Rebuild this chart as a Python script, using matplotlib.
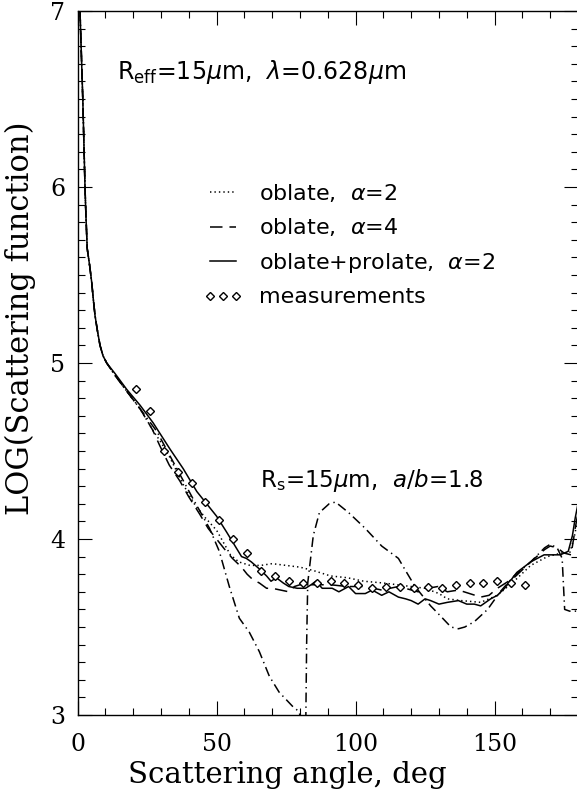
import numpy as np
import matplotlib
matplotlib.use("Agg")
import matplotlib.pyplot as plt

plt.rcParams['lines.scale_dashes'] = False
plt.rcParams['mathtext.fontset'] = 'dejavusans'

# oblate, alpha=2 (dotted)
ang_o2 = [0.9, 1.4, 1.9, 2.3, 2.7, 3.0, 3.5, 4.4, 5.1, 5.7, 6.3, 7.2, 8.1, 9.2, 10.5, 13.5, 17.7,
          22.5, 27, 30, 33, 38, 42, 46, 50, 55, 58, 62, 66, 70, 75, 80, 85, 91, 97, 103, 110, 115,
          120, 125, 130, 133, 138, 145, 151, 157, 163, 169, 174, 177, 178.5, 180]
val_o2 = [7.0, 6.75, 6.5, 6.25, 6.0, 5.85, 5.65, 5.55, 5.46, 5.36, 5.27, 5.18, 5.10, 5.04, 5.0, 4.93, 4.84,
          4.74, 4.62, 4.55, 4.47, 4.31, 4.20, 4.12, 4.05, 3.91, 3.87, 3.85, 3.85, 3.86, 3.85, 3.84, 3.82,
          3.79, 3.78, 3.76, 3.75, 3.74, 3.73, 3.72, 3.69, 3.66, 3.65, 3.64, 3.68, 3.76, 3.85, 3.90, 3.92,
          3.92, 4.0, 4.12]

# oblate, alpha=4 (dashed)
ang_o4 = [0.9, 1.4, 1.9, 2.3, 2.7, 3.0, 3.5, 4.4, 5.1, 5.7, 6.3, 7.2, 8.1, 9.2, 10.5, 13.5, 17.7,
          22.5, 27, 29.6, 33, 36.8, 40, 44, 47, 50, 53, 55.7, 59, 61, 63, 65.4, 68, 70, 73, 76, 78,
          80, 85, 91, 97, 103.5, 109.4, 115.4, 122.5, 126, 129.6, 133, 137, 141, 145, 148, 151, 157,
          163, 168, 170, 172.5, 175, 177.5, 179, 180]
val_o4 = [7.0, 6.75, 6.5, 6.25, 6.0, 5.85, 5.65, 5.55, 5.46, 5.36, 5.27, 5.18, 5.10, 5.04, 5.0, 4.93, 4.84,
          4.74, 4.62, 4.53, 4.42, 4.33, 4.24, 4.14, 4.06, 4.0, 3.94, 3.89, 3.84, 3.80, 3.77, 3.75, 3.72,
          3.72, 3.71, 3.70, 3.73, 3.74, 3.74, 3.74, 3.73, 3.73, 3.71, 3.73, 3.70, 3.72, 3.73, 3.70,
          3.71, 3.69, 3.67, 3.68, 3.72, 3.78, 3.87, 3.94, 3.96, 3.95, 3.92, 3.91, 4.06, 4.15]

# oblate+prolate, alpha=2 (solid)
ang_op = [0.9, 1.4, 1.9, 2.3, 2.7, 3.0, 3.5, 4.4, 5.1, 5.7, 6.3, 7.2, 8.1, 9.2, 10.5, 13.5, 17.7,
          22.5, 27.2, 33.3, 38, 42.9, 50, 53.6, 59, 60.7, 62.5, 65.4, 68, 69.6, 71.5, 74, 76, 79, 82,
          84, 85.7, 88, 91.6, 94, 97.5, 100, 103.5, 106, 109.4, 112, 115.4, 118, 120, 122.5, 125, 127,
          130, 133, 137, 140, 142.7, 145, 148.6, 151, 153.6, 158, 163, 167.8, 170, 173.6, 176.5, 178,
          179, 180]
val_op = [7.0, 6.75, 6.5, 6.25, 6.0, 5.85, 5.65, 5.55, 5.46, 5.36, 5.27, 5.18, 5.10, 5.04, 5.0, 4.94, 4.85,
          4.76, 4.66, 4.51, 4.40, 4.27, 4.13, 4.04, 3.90, 3.89, 3.87, 3.83, 3.79, 3.76, 3.78, 3.75, 3.73,
          3.72, 3.72, 3.74, 3.76, 3.72, 3.72, 3.70, 3.73, 3.69, 3.69, 3.71, 3.68, 3.70, 3.67, 3.66, 3.65,
          3.63, 3.66, 3.65, 3.63, 3.64, 3.65, 3.63, 3.63, 3.62, 3.66, 3.68, 3.72, 3.81, 3.87, 3.91, 3.91,
          3.91, 3.93, 4.02, 4.12, 4.2]

# R_s=15um, a/b=1.8 (dash-dot)
ang_rs = [0.9, 1.4, 1.9, 2.3, 2.7, 3.0, 3.5, 4.4, 5.1, 5.7, 6.3, 7.2, 8.1, 9.2, 10.5, 13.5, 17.7,
          22.5, 28.6, 35.7, 41.5, 47.5, 51, 54.6, 58.2, 61.8, 65.4, 69, 72.5, 77.3, 79.6, 81.0, 81.6,
          82.1, 82.4, 82.8, 84.8, 87, 90.5, 92.8, 97.5, 103.5, 109.4, 115.4, 118, 121.4, 127, 130.7,
          134.3, 137, 139.3, 142.7, 147.5, 152, 157, 163, 168, 170, 172.5, 174.3, 175.2, 177, 180]
val_rs = [7.0, 6.75, 6.5, 6.25, 6.0, 5.85, 5.65, 5.55, 5.46, 5.36, 5.27, 5.18, 5.10, 5.04, 5.0, 4.93, 4.84,
          4.74, 4.61, 4.40, 4.23, 4.06, 3.93, 3.73, 3.55, 3.47, 3.36, 3.22, 3.13, 3.05, 3.02, 2.95, 2.6,
          2.95, 3.4, 3.75, 4.02, 4.15, 4.20, 4.21, 4.15, 4.06, 3.96, 3.89, 3.82, 3.73, 3.62, 3.56,
          3.50, 3.49, 3.50, 3.53, 3.60, 3.70, 3.79, 3.87, 3.95, 3.97, 3.95, 3.89, 3.60, 3.59, 3.59]

# measurements
ang_meas = [21, 26, 31, 36, 41, 46, 51, 56, 61, 66, 71, 76, 81, 86, 91, 96, 101, 106, 111,
            116, 121, 126, 131, 136, 141, 146, 151, 156, 161]
val_meas = [4.85, 4.73, 4.50, 4.38, 4.32, 4.21, 4.11, 4.00, 3.92, 3.82, 3.79, 3.76, 3.75, 3.75, 3.76,
            3.75, 3.74, 3.72, 3.73, 3.73, 3.72, 3.73, 3.72, 3.74, 3.75, 3.75, 3.76, 3.75, 3.74]

fig = plt.figure(figsize=(5.77, 7.92), dpi=100)
ax = fig.add_axes([77.5 / 577, 77 / 792, 500.5 / 577, 704 / 792])

lw = 1.1
l1, = ax.plot(ang_o2, val_o2, color='black', lw=lw, dashes=(1, 2.2), label=r'oblate,  $\alpha$=2')
l2, = ax.plot(ang_o4, val_o4, color='black', lw=lw, dashes=(9, 5), label=r'oblate,  $\alpha$=4')
l3, = ax.plot(ang_op, val_op, color='black', lw=lw, label=r'oblate+prolate,  $\alpha$=2')
ax.plot(ang_rs, val_rs, color='black', lw=lw, dashes=(7, 3, 1, 3))
l4, = ax.plot(ang_meas, val_meas, ls='none', marker='D', ms=4.5, mfc='white', mec='black',
              mew=1.0, label='measurements')

ax.set_xlim(0, 180)
ax.set_ylim(3, 7)
ax.set_xticks([0, 50, 100, 150])
ax.set_xticks(np.arange(0, 181, 10), minor=True)
ax.set_yticks([3, 4, 5, 6, 7])
ax.set_yticks(np.arange(3, 7.01, 0.1), minor=True)
ax.tick_params(which='both', direction='in', top=True, right=True, width=0.8)
ax.tick_params(which='major', length=10, labelsize=17, pad=9)
ax.tick_params(which='minor', length=5)
ax.tick_params(axis='x', which='major', pad=13)
for lab in ax.get_xticklabels() + ax.get_yticklabels():
    lab.set_family('DejaVu Serif')
for s in ax.spines.values():
    s.set_linewidth(1.0)

fig.text(287 / 577, 1 - 775 / 792, 'Scattering angle, deg', ha='center', va='center',
         family='DejaVu Serif', fontsize=21)
fig.text(20 / 577, 1 - 318 / 792, 'LOG(Scattering function)', ha='center', va='center',
         rotation=90, family='DejaVu Serif', fontsize=22)

ax.text((117 - 77.5) / 500.5, (715 - 72) / 704,
        r'R$_{\rm eff}$=15$\mu$m,  $\lambda$=0.628$\mu$m', transform=ax.transAxes,
        ha='left', va='center', fontsize=17)
ax.text((260 - 77.5) / 500.5, (715 - 480) / 704,
        r'R$_{\rm s}$=15$\mu$m,  $a/b$=1.8', transform=ax.transAxes,
        ha='left', va='center', fontsize=16.5)

ax.legend(handles=[l1, l2, l3, l4], loc='upper left',
          bbox_to_anchor=((203 - 77.5) / 500.5, (715 - 182) / 704),
          frameon=False, fontsize=16, handlelength=1.8, handletextpad=0.7,
          labelspacing=0.56, borderpad=0, borderaxespad=0, numpoints=3)

fig.savefig('out.png', dpi=100)
